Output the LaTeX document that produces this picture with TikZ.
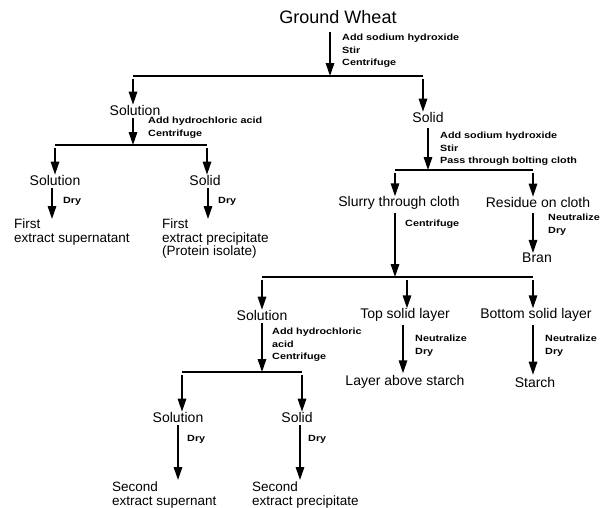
\documentclass[tikz,border=0pt]{standalone}
\usepackage{fontspec}
\setmainfont{Liberation Sans}
\newfontfamily\lblfont[FakeStretch=1.2]{Liberation Sans}
\usetikzlibrary{arrows.meta, calc}

\tikzset{
  stage/.style={font=\fontsize{14}{14}\selectfont, inner sep=0pt},
  product/.style={font=\fontsize{13.5}{13.5}\selectfont, inner sep=0pt,
                  align=left, anchor=north west},
  opnote/.style={font=\lblfont\bfseries\fontsize{9}{12.5}\selectfont,
                 inner sep=0pt, align=left, anchor=north west},
  flow/.style={line width=1.5pt, shorten <=3pt,
               -{Triangle[length=13pt,width=8.5pt]}},
  bar/.style={line width=1.8pt}
}

\begin{document}
\begin{tikzpicture}[x=1pt, y=-1pt]
\useasboundingbox (0,0) rectangle (601,507);

% starting material
\node[stage, font=\fontsize{18}{18}\selectfont] (wheat) at (338,17) {Ground Wheat};
\node[opnote] (opA) at (342,34) {Add sodium hydroxide\\Stir\\Centrifuge};
\coordinate (jA) at (330,76);
\coordinate (jAl) at (133,76);
\coordinate (jAr) at (423,76);

% first split
\node[stage] (solA) at (135,110) {Solution};
\node[stage] (sldA) at (428,117) {Solid};

% acid branch
\node[opnote] (opB) at (148,117) {Add hydrochloric acid\\Centrifuge};
\coordinate (jB) at (133,145);
\coordinate (jBl) at (55,145);
\coordinate (jBr) at (207,145);
\node[stage] (solB) at (55,180) {Solution};
\node[stage] (sldB) at (205,180) {Solid};
\node[opnote] (dryB1) at (63,197) {Dry};
\node[opnote] (dryB2) at (218,197) {Dry};
\node[product] (supB) at (14,219) {First\\extract supernatant};
\node[product] (preB) at (162,219) {First\\extract precipitate\\(Protein isolate)};

% solid branch
\node[opnote] (opC) at (440,132) {Add sodium hydroxide\\Stir\\Pass through bolting cloth};
\coordinate (jC) at (428,170);
\coordinate (jCl) at (395,170);
\coordinate (jCr) at (533,170);
\node[stage] (slurry) at (399,203) {Slurry through cloth};
\node[stage] (residue) at (538,202) {Residue on cloth};
\node[opnote] (opR) at (548,214) {Neutralize\\Dry};
\node[stage] (bran) at (537,258) {Bran};
\node[opnote] (opS) at (405,220) {Centrifuge};
\coordinate (jD) at (395,277);
\coordinate (jDl) at (262,277);
\coordinate (jDm) at (407,277);
\coordinate (jDr) at (533,277);

% layers
\node[stage] (solD) at (262,315) {Solution};
\node[stage] (topD) at (405,315) {Top solid layer};
\node[stage] (botD) at (536,315) {Bottom solid layer};
\node[opnote] (opE) at (272,328) {Add hydrochloric\\acid\\Centrifuge};
\node[opnote] (opT) at (415,335) {Neutralize\\Dry};
\node[opnote] (opU) at (545,335) {Neutralize\\Dry};
\node[stage] (above) at (405,382) {Layer above starch};
\node[stage] (starch) at (535,382) {Starch};
\coordinate (jE) at (262,372);
\coordinate (jEl) at (182,372);
\coordinate (jEr) at (302,372);

% second extract
\node[stage] (solE) at (178,417) {Solution};
\node[stage] (sldE) at (297,417) {Solid};
\node[opnote] (dryE1) at (187,435) {Dry};
\node[opnote] (dryE2) at (308,435) {Dry};
\node[product] (supE) at (112,482) {Second\\extract supernant};
\node[product] (preE) at (252,482) {Second\\extract precipitate};

% connectors
\draw[flow, shorten <=8pt] (wheat.south -| jA) -- (jA);
\draw[bar] (jAl) -- (jAr);
\draw[flow] (jAl) -- (jAl |- solA.north);
\draw[flow] (jAr) -- (jAr |- sldA.north);

\draw[flow] (solA.south -| jB) -- (jB);
\draw[bar] (jBl) -- (jBr);
\draw[flow] (jBl) -- (jBl |- solB.north);
\draw[flow] (jBr) -- (jBr |- sldB.north);
\draw[flow] ($(solB.south)+(-3,0)$) -- ($(supB.north west)+(38,0)$);
\draw[flow] ($(sldB.south)+(3,0)$) -- ($(preB.north west)+(46,0)$);

\draw[flow, shorten <=6pt] (sldA.south -| jC) -- (jC);
\draw[bar] (jCl) -- (jCr);
\draw[flow] (jCl) -- (jCl |- slurry.north);
\draw[flow] (jCr) -- (jCr |- residue.north);
\draw[flow, shorten <=6pt] (residue.south -| jCr) -- (jCr |- bran.north);

\draw[flow] (slurry.south -| jD) -- (jD);
\draw[bar] (jDl) -- (jDr);
\draw[flow] (jDl) -- (jDl |- solD.north);
\draw[flow] (jDm) -- (jDm |- topD.north);
\draw[flow] (jDr) -- (jDr |- botD.north);

\draw[flow] (solD.south -| jE) -- (jE);
\draw[bar] (jEl) -- (jEr);
\draw[flow] (jEl) -- (jEl |- solE.north);
\draw[flow] (jEr) -- (jEr |- sldE.north);
\draw[flow] ($(topD.south)+(-2,0)$) -- ($(above.north)+(-2,-2)$);
\draw[flow] ($(botD.south)+(-3,0)$) -- ($(starch.north)+(-2,-2)$);

\draw[flow] (solE.south) -- ($(supE.north west)+(66,-2)$);
\draw[flow] ($(sldE.south)+(3,0)$) -- ($(preE.north west)+(48,-2)$);
\end{tikzpicture}
\end{document}
